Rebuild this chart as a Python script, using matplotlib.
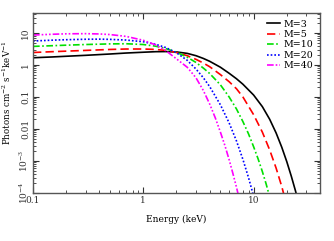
import matplotlib
matplotlib.use("Agg")
import matplotlib.pyplot as plt
from matplotlib.ticker import FixedLocator, FixedFormatter, LogLocator, NullFormatter

plt.rcParams['font.family'] = ['DejaVu Serif']
plt.rcParams['mathtext.fontset'] = 'dejavuserif'

labels = ["M=3", "M=5", "M=10", "M=20", "M=40"]
colors = ["black", "red", "#00e000", "blue", "magenta"]

e_m3 = [0.1, 0.15, 0.2, 0.3, 0.5, 0.7, 1.0, 1.3, 1.6, 2.0, 2.5, 3.0, 3.5, 4.0, 5.0, 6.0, 7.0, 8.0, 10, 12, 14, 16, 18, 20, 22, 24, 26]
n_m3 = [1.68, 1.78, 1.87, 2.0, 2.2, 2.36, 2.5, 2.6, 2.62, 2.55, 2.3, 1.95, 1.6, 1.3, 0.85, 0.55, 0.37, 0.25, 0.115, 0.05, 0.02, 7.5e-3, 2.7e-3, 9.5e-4, 3.3e-4, 1.15e-4, 4e-5]

e_m5 = [0.1, 0.15, 0.2, 0.3, 0.5, 0.7, 1.0, 1.3, 1.6, 2.0, 2.5, 3.0, 3.5, 4.0, 5.0, 6.0, 7.0, 8.0, 10, 12, 14, 16, 18, 20]
n_m5 = [2.45, 2.6, 2.7, 2.85, 3.05, 3.15, 3.15, 3.05, 2.85, 2.45, 1.95, 1.5, 1.15, 0.88, 0.5, 0.3, 0.18, 0.1, 0.028, 8e-3, 2.2e-3, 6e-4, 1.6e-4, 4e-5]

e_m10 = [0.1, 0.15, 0.2, 0.3, 0.5, 0.7, 1.0, 1.3, 1.6, 2.0, 2.5, 3.0, 3.5, 4.0, 5.0, 6.0, 7.0, 8.0, 9.0, 10, 11, 12, 13, 14]
n_m10 = [3.8, 4.0, 4.15, 4.35, 4.55, 4.6, 4.35, 3.85, 3.25, 2.5, 1.75, 1.2, 0.8, 0.54, 0.24, 0.1, 0.042, 0.017, 7e-3, 2.8e-3, 1.15e-3, 4.7e-4, 1.9e-4, 7.5e-5]

e_m20 = [0.1, 0.15, 0.2, 0.3, 0.4, 0.5, 0.7, 1.0, 1.3, 1.6, 2.0, 2.5, 3.0, 3.5, 4.0, 5.0, 6.0, 7.0, 8.0, 9.0, 10]
n_m20 = [5.6, 5.95, 6.15, 6.35, 6.4, 6.3, 6.0, 5.3, 4.4, 3.5, 2.4, 1.4, 0.75, 0.4, 0.21, 0.057, 0.0155, 4.2e-3, 1.12e-3, 3e-4, 8e-5]

e_m40 = [0.1, 0.15, 0.2, 0.3, 0.4, 0.5, 0.7, 1.0, 1.3, 1.6, 2.0, 2.5, 3.0, 3.5, 4.0, 4.5, 5.0, 5.5, 6.0, 6.5, 7.0, 7.5]
n_m40 = [8.6, 9.1, 9.4, 9.5, 9.3, 8.9, 7.8, 5.9, 4.2, 2.8, 1.55, 0.85, 0.4, 0.16, 0.06, 0.022, 8e-3, 3e-3, 1.1e-3, 4e-4, 1.5e-4, 5.5e-5]

yticks = [1e-4, 1e-3, 1e-2, 0.1, 1, 10]
ytick_labels = ["$10^{-4}$", "$10^{-3}$", "0.01", "0.1", "1", "10"]
xticks = [0.1, 1, 10]
xtick_labels = ["0.1", "1", "10"]

series = [(e_m3, n_m3), (e_m5, n_m5), (e_m10, n_m10), (e_m20, n_m20), (e_m40, n_m40)]
styles = ['-', (0, (5, 2.5)), (0, (4, 1.5, 1, 1.5)), (0, (1, 1.2)), (0, (4, 1.2, 1, 1.2, 1, 1.2, 1, 1.2))]

fig = plt.figure(figsize=(3.34, 2.41), dpi=100)
ax = fig.add_axes([33/334, 1-193/241, (320-33)/334, (193-13)/241])

for (e, n), c, ls, lab in zip(series, colors, styles, labels):
    ax.plot(e, n, color=c, linestyle=ls, lw=1.2, label=lab)

ax.set_xscale('log')
ax.set_yscale('log')
ax.set_xlim(0.1, 40)
ax.set_ylim(1e-4, 42)

ax.xaxis.set_major_locator(FixedLocator(xticks))
ax.xaxis.set_major_formatter(FixedFormatter(xtick_labels))
ax.yaxis.set_major_locator(FixedLocator(yticks))
ax.yaxis.set_major_formatter(FixedFormatter(ytick_labels))
ax.xaxis.set_minor_locator(LogLocator(base=10, subs=range(2, 10)))
ax.yaxis.set_minor_locator(LogLocator(base=10, subs=range(2, 10)))
ax.xaxis.set_minor_formatter(NullFormatter())
ax.yaxis.set_minor_formatter(NullFormatter())

ax.tick_params(which='both', direction='in', top=True, right=True, labelsize=6.5, colors='#333333')
ax.tick_params(which='major', length=4, width=0.8)
ax.tick_params(which='minor', length=2, width=0.6)
ax.tick_params(axis='x', pad=2.5)
ax.tick_params(axis='y', pad=2)
for lab in ax.get_yticklabels():
    lab.set_rotation(90)
    lab.set_verticalalignment('center')

for s in ax.spines.values():
    s.set_color('#555555')
    s.set_linewidth(1.0)

ax.set_xlabel("Energy (keV)", fontsize=6.5, labelpad=7)
ax.set_ylabel("Photons cm$^{-2}$ s$^{-1}$keV$^{-1}$", fontsize=6.3)
ax.yaxis.set_label_coords(-0.068, 0.56)

leg = ax.legend(loc='upper right', frameon=False, fontsize=6.8, handlelength=1.4,
                handletextpad=0.4, labelspacing=0.15, borderaxespad=0.3)

fig.savefig("out.png", dpi=100)
